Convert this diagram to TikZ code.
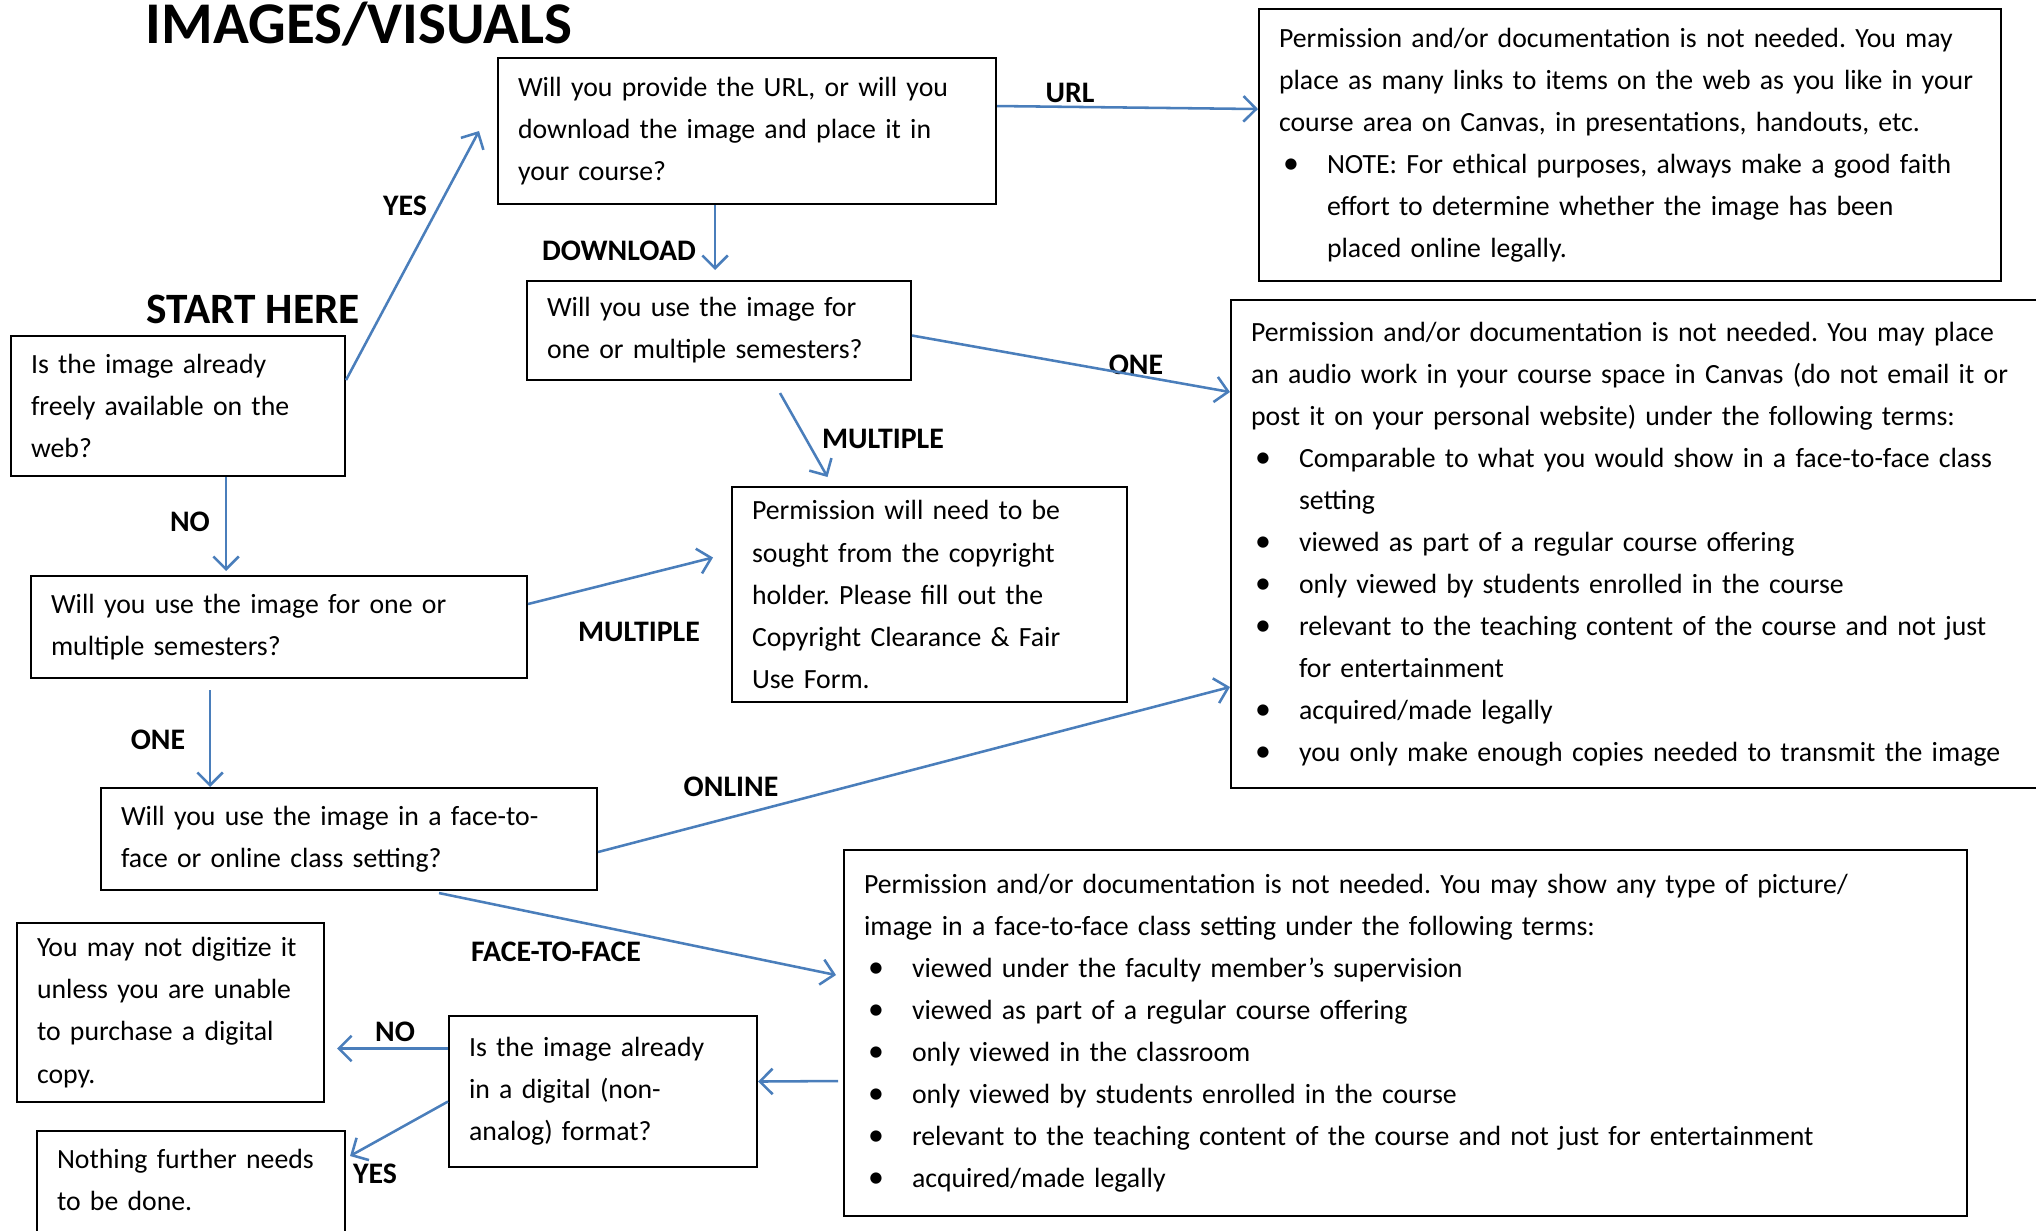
\documentclass[tikz,border=0pt]{standalone}
\usepackage{fontspec}
\setmainfont{Carlito}
\usetikzlibrary{arrows.meta}
\definecolor{lineblue}{RGB}{74,126,187}
\newlength{\px}
\setlength{\px}{0.0138cm}
\setlength{\parindent}{0pt}
\frenchspacing
\hyphenpenalty=10000
\exhyphenpenalty=10000
\newcommand{\bitem}[1]{\par\hangindent=48\px\hangafter=1\noindent\makebox[48\px][l]{\hspace{4\px}{\fontsize{12.5}{12}\selectfont\textbullet}}#1\par}

\begin{document}
\begin{tikzpicture}[x=0.0138cm, y=-0.0138cm,
  box/.style={draw, line width=0.8pt, inner xsep=20\px, inner ysep=0pt, anchor=north west,
    align=left, font=\fontsize{10.9}{16.5}\selectfont},
  lbl/.style={font=\fontsize{11.7}{13}\selectfont\bfseries},
  flow/.style={draw=lineblue, line width=1pt, -{Straight Barb[length=5pt,width=10pt]}}]
\useasboundingbox (0,0) rectangle (2036,1230);

\node[font=\fontsize{23.2}{26}\selectfont\bfseries, anchor=base] (title) at (359,43) {IMAGES/VISUALS};
\node[font=\fontsize{17}{20}\selectfont\bfseries] (starthere) at (253,309) {START HERE};

\node[box, text width=458\px, minimum height=146\px] (urlq) at (497,57)
  {Will you provide the URL, or will you\\download the image and place it in\\your course?};
\node[box, text width=702\px, minimum height=272\px] (urlok) at (1258,8)
  {Permission and/or documentation is not needed. You may\\place as many links to items on the web as you like in your\\course area on Canvas, in presentations, handouts, etc.
   \bitem{NOTE: For ethical purposes, always make a good faith\newline effort to determine whether the image has been\newline placed online legally.}};
\node[box, text width=294\px, minimum height=140\px] (start) at (10,335)
  {Is the image already\\freely available on the\\web?};
\node[box, text width=344\px, minimum height=99\px] (dlsem) at (526,280)
  {Will you use the image for\\one or multiple semesters?};
\node[box, text width=355\px, minimum height=215\px] (seek) at (731,486)
  {Permission will need to be\\sought from the copyright\\holder. Please fill out the\\Copyright Clearance \& Fair\\Use Form.};
\node[box, text width=792\px, minimum height=488\px] (audio) at (1230,299)
  {Permission and/or documentation is not needed. You may place\\an audio work in your course space in Canvas (do not email it or\\post it on your personal website) under the following terms:
   \bitem{Comparable to what you would show in a face-to-face class\newline setting}
   \bitem{viewed as part of a regular course offering}
   \bitem{only viewed by students enrolled in the course}
   \bitem{relevant to the teaching content of the course and not just\newline for entertainment}
   \bitem{acquired/made legally}
   \bitem{you only make enough copies needed to transmit the image}};
\node[box, text width=456\px, minimum height=102\px] (sem) at (30,575)
  {Will you use the image for one or\\multiple semesters?};
\node[box, text width=456\px, minimum height=102\px] (f2fq) at (100,787)
  {Will you use the image in a face-to-\\face or online class setting?};
\node[box, text width=267\px, minimum height=179\px] (nodig) at (16,922)
  {You may not digitize it\\unless you are unable\\to purchase a digital\\copy.};
\node[box, text width=268\px, minimum height=140\px] (nothing) at (36,1130)
  {Nothing further needs\\to be done.\\\mbox{}};
\node[box, text width=268\px, minimum height=151\px] (digq) at (448,1015)
  {Is the image already\\in a digital (non-\\analog) format?};
\node[box, text width=1083\px, minimum height=366\px] (f2fok) at (843,849)
  {Permission and/or documentation is not needed. You may show any type of picture/\\image in a face-to-face class setting under the following terms:
   \bitem{viewed under the faculty member's supervision}
   \bitem{viewed as part of a regular course offering}
   \bitem{only viewed in the classroom}
   \bitem{only viewed by students enrolled in the course}
   \bitem{relevant to the teaching content of the course and not just for entertainment}
   \bitem{acquired/made legally}};

\node[lbl] (lyesa) at (405,206) {YES};
\node[lbl] (lurl) at (1070,93) {URL};
\node[lbl] (ldl) at (619,251) {DOWNLOAD};
\node[lbl] (lonea) at (1136,365) {ONE};
\node[lbl] (lmulta) at (883,439) {MULTIPLE};
\node[lbl] (lnoa) at (190,522) {NO};
\node[lbl] (lmultb) at (639,632) {MULTIPLE};
\node[lbl] (loneb) at (158,740) {ONE};
\node[lbl] (lonline) at (731,787) {ONLINE};
\node[lbl] (lf2f) at (556,952) {FACE-TO-FACE};
\node[lbl] (lnob) at (395,1032) {NO};
\node[lbl] (lyesb) at (375,1174) {YES};

\draw[flow] ([yshift=26\px]start.east) -- ([xshift=-18\px]urlq.west);
\draw[flow] ([yshift=25\px]urlq.east) -- ([yshift=36\px]urlok.west);
\draw[flow] ([xshift=-32\px]urlq.south) -- ([xshift=-4\px,yshift=10\px]dlsem.north);
\draw[flow] ([yshift=-5\px]dlsem.east) -- ([yshift=152\px]audio.west);
\draw[flow] ([xshift=61\px,yshift=-12\px]dlsem.south) -- ([xshift=-102\px,yshift=9\px]seek.north);
\draw[flow] ([xshift=48\px]start.south) -- ([xshift=-53\px,yshift=4\px]sem.north);
\draw[flow] ([yshift=23\px]sem.east) -- ([xshift=-18\px,yshift=37\px]seek.west);
\draw[flow] ([xshift=-69\px,yshift=-11\px]sem.south) -- ([xshift=-139\px]f2fq.north);
\draw[flow] ([yshift=-13\px]f2fq.east) -- ([yshift=-143\px]audio.west);
\draw[flow] ([xshift=90\px,yshift=-2\px]f2fq.south) -- ([xshift=-7\px,yshift=58\px]f2fok.west);
\draw[flow] ([xshift=-5\px,yshift=-48\px]f2fok.west) -- ([yshift=10\px]digq.east);
\draw[flow] ([yshift=43\px]digq.west) -- ([xshift=12\px,yshift=-36\px]nodig.east);
\draw[flow] ([yshift=-10\px]digq.west) -- ([xshift=4\px,yshift=-26\px]nothing.north east);

\end{tikzpicture}
\end{document}
